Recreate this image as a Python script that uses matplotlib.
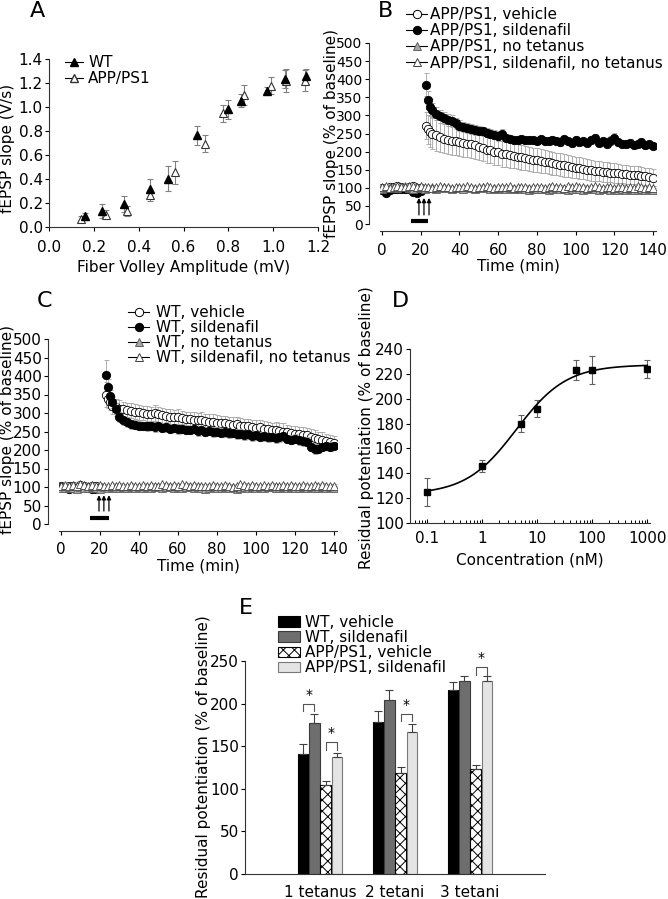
import numpy as np
import matplotlib.pyplot as plt
from matplotlib.lines import Line2D
from matplotlib.patches import Patch
from matplotlib.ticker import LogLocator, NullFormatter

plt.rcParams['font.family'] = 'DejaVu Sans'
plt.rcParams['font.size'] = 11
plt.rcParams['hatch.linewidth'] = 0.7

# ---------------- A: input/output curve ----------------
fv_wt = [0.159, 0.236, 0.335, 0.452, 0.531, 0.660, 0.800, 0.858, 0.974, 1.051, 1.148]
slope_wt = [0.089, 0.134, 0.190, 0.318, 0.404, 0.764, 0.980, 1.054, 1.135, 1.233, 1.255]
err_wt = [0.030, 0.060, 0.067, 0.078, 0.106, 0.078, 0.078, 0.056, 0.030, 0.078, 0.060]
fv_app = [0.144, 0.253, 0.350, 0.452, 0.560, 0.696, 0.776, 0.870, 0.990, 1.056, 1.140]
slope_app = [0.070, 0.103, 0.134, 0.265, 0.455, 0.694, 0.948, 1.100, 1.177, 1.220, 1.220]
err_app = [0.025, 0.035, 0.040, 0.045, 0.095, 0.073, 0.070, 0.080, 0.070, 0.095, 0.090]

# ---------------- B / C: time courses ----------------
t_base = list(range(0, 21, 2))
t_post = [23, 24, 25] + list(range(26, 141, 2))
t_nt = list(range(0, 141, 2))

# B, APP/PS1
b_veh = [100, 98, 102, 103, 104, 101, 100, 103, 104, 99, 100,
         272, 262, 255,
         250, 245, 240, 236, 232, 230, 228, 226, 224, 222,
         220, 218, 213, 211, 205, 204, 199, 198, 193, 192,
         190, 188, 186, 184, 182, 180, 178, 176, 174, 172,
         170, 168, 166, 164, 162, 160, 158, 156, 154, 152,
         150, 148, 147, 146, 144, 143, 142, 141, 140, 138,
         137, 136, 135, 134, 133, 132, 130, 128]
b_veh_err = [6, 5, 6, 5, 6, 5, 6, 5, 6, 5, 6,
             38, 40, 42,
             42, 42, 40, 40, 40, 40, 38, 38, 38, 38,
             38, 38, 36, 36, 36, 36, 35, 35, 35, 35,
             34, 34, 34, 34, 34, 33, 33, 33, 32, 32,
             32, 32, 31, 31, 31, 30, 30, 30, 30, 29,
             29, 29, 28, 28, 28, 28, 27, 27, 26, 26,
             26, 25, 25, 25, 24, 24, 24, 23]
b_sil = [95, 87, 93, 97, 98, 97, 98, 97, 88, 86, 92,
         385, 342, 322,
         315, 305, 298, 292, 288, 284, 278, 272, 268, 265,
         262, 260, 258, 256, 252, 250, 247, 243, 250, 238,
         235, 233, 232, 234, 231, 233, 232, 230, 234, 229,
         228, 232, 230, 226, 234, 228, 224, 232, 226, 228,
         225, 232, 238, 225, 228, 222, 230, 238, 226, 222,
         220, 225, 218, 222, 226, 218, 220, 216]
b_sil_err = [5, 6, 5, 4, 5, 5, 4, 5, 6, 7, 6,
             32, 25, 22,
             20, 19, 18, 17, 16, 16, 15, 15, 14, 14,
             14, 13, 13, 13, 12, 12, 12, 14, 12, 11,
             11, 11, 11, 11, 11, 10, 10, 10, 10, 10,
             10, 10, 10, 10, 10, 10, 10, 10, 10, 10,
             10, 10, 12, 10, 10, 10, 12, 14, 10, 10,
             10, 10, 10, 10, 10, 10, 10, 9]
b_nt = [98, 100, 102, 101, 99, 103, 104, 100, 98, 101,
        99, 97, 100, 102, 98, 99, 101, 100, 97, 99,
        100, 98, 101, 99, 97, 100, 102, 99, 98, 100,
        97, 99, 98, 100, 96, 98, 99, 97, 95, 98,
        97, 96, 98, 95, 97, 99, 96, 98, 95, 97,
        96, 98, 95, 97, 96, 98, 94, 96, 97, 95,
        96, 94, 97, 95, 96, 94, 95, 97, 94, 96,
        95]
b_nt_err = [5, 4, 5, 6, 4, 5, 4, 5, 6, 5,
            4, 5, 4, 6, 5, 4, 5, 4, 5, 6,
            5, 4, 5, 4, 6, 5, 4, 5, 4, 5,
            6, 5, 4, 5, 4, 6, 5, 4, 5, 4,
            5, 6, 5, 4, 5, 4, 6, 5, 4, 5,
            4, 5, 6, 5, 4, 5, 4, 6, 5, 4,
            5, 4, 5, 6, 5, 4, 5, 4, 6, 5,
            4]
b_silnt = [102, 104, 100, 103, 105, 102, 101, 104, 106, 103,
           104, 101, 103, 100, 102, 104, 101, 103, 100, 102,
           103, 101, 104, 102, 100, 103, 101, 104, 102, 100,
           103, 101, 102, 104, 100, 102, 101, 103, 100, 102,
           101, 103, 100, 102, 104, 101, 103, 100, 105, 102,
           104, 101, 103, 100, 102, 104, 101, 99, 103, 101,
           100, 103, 101, 99, 102, 100, 104, 101, 99, 102,
           100]
b_silnt_err = [4, 5, 4, 5, 5, 6, 4, 5, 4, 6,
               5, 4, 6, 5, 4, 5, 6, 4, 5, 4,
               6, 5, 4, 5, 4, 5, 6, 5, 4, 5,
               4, 6, 5, 4, 5, 6, 4, 5, 4, 5,
               6, 4, 5, 5, 4, 6, 5, 4, 5, 6,
               4, 5, 4, 6, 5, 4, 5, 6, 4, 5,
               5, 4, 6, 5, 4, 5, 4, 5, 6, 4,
               5]

# C, WT
c_veh = [102, 100, 104, 103, 101, 105, 104, 100, 102, 104, 101,
         350, 338, 330,
         320, 315, 312, 310, 308, 306, 304, 302, 300, 298,
         297, 300, 296, 294, 292, 290, 288, 290, 286, 284,
         283, 282, 280, 282, 278, 276, 277, 274, 272, 273,
         270, 268, 270, 266, 264, 265, 262, 260, 261, 258,
         256, 254, 255, 252, 250, 248, 246, 244, 242, 241,
         240, 236, 233, 230, 228, 225, 222, 220]
c_veh_err = [6, 5, 6, 6, 5, 6, 5, 6, 6, 5, 6,
             35, 25, 22,
             22, 22, 22, 20, 20, 20, 20, 20, 20, 20,
             20, 22, 20, 20, 20, 20, 20, 22, 20, 20,
             20, 20, 20, 22, 20, 20, 20, 20, 20, 20,
             20, 20, 20, 20, 20, 20, 20, 20, 20, 20,
             20, 20, 22, 20, 24, 20, 20, 20, 20, 20,
             20, 20, 22, 20, 20, 18, 18, 18]
c_sil = [100, 96, 95, 97, 100, 98, 99, 96, 94, 95, 97,
         402, 370, 345,
         330, 312, 290, 280, 275, 270, 268, 266, 265, 264,
         266, 262, 264, 260, 262, 258, 260, 256, 257, 255,
         254, 256, 252, 254, 250, 252, 248, 250, 247, 248,
         245, 247, 243, 244, 240, 242, 238, 240, 236, 237,
         234, 236, 232, 234, 237, 230, 228, 231, 226, 224,
         222, 208, 202, 204, 208, 211, 209, 212]
c_sil_err = [5, 6, 5, 5, 6, 5, 5, 6, 5, 5, 6,
             40, 22, 18,
             16, 15, 14, 13, 12, 12, 12, 12, 12, 12,
             12, 13, 11, 12, 14, 12, 11, 13, 12, 12,
             12, 11, 13, 12, 12, 11, 13, 12, 12, 12,
             12, 11, 13, 12, 12, 11, 13, 12, 12, 12,
             12, 11, 13, 12, 12, 11, 13, 12, 12, 12,
             12, 12, 14, 12, 12, 11, 12, 10]
c_nt = [98, 96, 100, 97, 95, 99, 98, 96, 100, 97,
        95, 99, 98, 100, 97, 96, 99, 98, 100, 97,
        99, 98, 101, 97, 99, 100, 98, 101, 99, 97,
        100, 98, 99, 101, 97, 99, 96, 94, 97, 99,
        96, 98, 100, 97, 99, 95, 98, 100, 97, 99,
        98, 100, 97, 99, 101, 98, 96, 99, 97, 100,
        98, 96, 99, 97, 100, 98, 96, 99, 97, 100,
        98]
c_nt_err = [5, 6, 4, 5, 5, 4, 6, 5, 4, 5,
            6, 4, 5, 5, 6, 4, 5, 4, 6, 5,
            4, 5, 6, 4, 5, 5, 4, 6, 5, 4,
            5, 6, 4, 5, 4, 6, 5, 5, 4, 6,
            5, 4, 5, 6, 4, 5, 5, 4, 6, 5,
            4, 6, 5, 4, 5, 6, 4, 5, 5, 4,
            6, 5, 4, 5, 6, 4, 5, 5, 4, 6,
            5]
c_silnt = [103, 105, 102, 106, 104, 108, 106, 103, 105, 102,
           106, 104, 102, 105, 103, 106, 104, 102, 105, 103,
           104, 106, 103, 105, 102, 104, 107, 105, 103, 106,
           104, 108, 105, 103, 106, 104, 102, 104, 103, 105,
           104, 102, 105, 103, 101, 104, 107, 105, 103, 106,
           104, 102, 105, 103, 106, 104, 102, 105, 103, 106,
           104, 103, 106, 104, 102, 105, 103, 106, 104, 102,
           104]
c_silnt_err = [4, 5, 5, 4, 6, 5, 4, 5, 6, 4,
               5, 5, 4, 6, 5, 4, 5, 5, 6, 4,
               5, 4, 6, 5, 5, 4, 5, 6, 4, 5,
               5, 4, 5, 6, 4, 5, 5, 4, 6, 5,
               4, 5, 6, 4, 5, 5, 4, 6, 5, 4,
               5, 6, 4, 5, 5, 4, 6, 5, 4, 5,
               5, 4, 6, 5, 4, 5, 5, 6, 4, 5,
               4]

tetanus_b = [19.1, 21.7, 24.3]
tetanus_c = [19.5, 22.0, 24.6]
drug_bar_b = [15, 24]
drug_bar_c = [15, 24.6]

# ---------------- D: dose response ----------------
conc_d = [0.1, 1, 5, 10, 50, 100, 1000]
resp_d = [125, 146, 180, 192, 223, 223, 224]
err_d = [11, 5, 7, 7, 8, 11, 7]

# ---------------- E: residual potentiation ----------------
groups_e = ['1 tetanus', '2 tetani', '3 tetani']
labels_e = ['WT, vehicle', 'WT, sildenafil', 'APP/PS1, vehicle', 'APP/PS1, sildenafil']
vals_e = [[141, 178, 216],
          [177, 204, 226],
          [104, 119, 123],
          [137, 167, 226]]
errs_e = [[11, 13, 9],
          [11, 12, 6],
          [5, 7, 5],
          [5, 9, 6]]
# (group index, bar i, bar j, bracket height)
sig_e = [(0, 0, 1, 200), (0, 2, 3, 155), (1, 2, 3, 188), (2, 2, 3, 243)]

# ======================================================
W, H = 668, 899
fig = plt.figure(figsize=(W / 100, H / 100), dpi=100)


def box(l, t, r, b):
    return [l / W, 1 - b / H, (r - l) / W, (b - t) / H]


def clean(ax):
    ax.spines['top'].set_visible(False)
    ax.spines['right'].set_visible(False)
    for s in ('left', 'bottom'):
        ax.spines[s].set_linewidth(0.8)
        ax.spines[s].set_color('#333333')


def add_legend(ax, handles, labels, x, y, hl, htp, ls):
    ax.legend(handles, labels, loc='upper left', bbox_to_anchor=(x / W, 1 - y / H),
              bbox_transform=fig.transFigure, frameon=False, borderpad=0,
              borderaxespad=0, handlelength=hl, handletextpad=htp, labelspacing=ls,
              fontsize=11)


axA = fig.add_axes(box(49, 59, 318, 227))
axB = fig.add_axes(box(380, 43, 656, 224))
axC = fig.add_axes(box(59, 339, 337, 524))
axD = fig.add_axes(box(410, 349, 650, 523))
axE = fig.add_axes(box(245, 661, 545, 874))

# ---- A ----
axA.errorbar(fv_wt, slope_wt, yerr=err_wt, fmt='none', ecolor='#808080',
             elinewidth=0.8, capsize=2.5, capthick=0.8, zorder=1)
axA.errorbar(fv_app, slope_app, yerr=err_app, fmt='none', ecolor='#808080',
             elinewidth=0.8, capsize=2.5, capthick=0.8, zorder=1)
axA.plot(fv_wt, slope_wt, ls='none', marker='^', ms=6, mfc='black', mec='black', zorder=3)
axA.plot(fv_app, slope_app, ls='none', marker='^', ms=6, mfc='white', mec='#333333',
         mew=0.8, zorder=2)
axA.set_xlim(0, 1.2)
axA.set_ylim(0, 1.4)
axA.set_xticks(np.arange(0, 1.21, 0.2))
axA.set_yticks(np.arange(0, 1.41, 0.2))
axA.xaxis.set_major_formatter(plt.FormatStrFormatter('%.1f'))
axA.yaxis.set_major_formatter(plt.FormatStrFormatter('%.1f'))
clean(axA)
axA.tick_params(axis='x', length=3, width=0.8, pad=6)
axA.tick_params(axis='y', length=3, width=0.8, pad=1.5)
axA.set_xlabel('Fiber Volley Amplitude (mV)')
axA.set_ylabel('fEPSP slope (V/s)')
axA.xaxis.set_label_coords(0.5, -0.196)
axA.yaxis.set_label_coords(-0.126, 0.47)
hA = [Line2D([0], [0], color='black', lw=0.8, marker='^', ms=6, mfc='black', mec='black'),
      Line2D([0], [0], color='black', lw=0.8, marker='^', ms=6, mfc='white', mec='#333333')]
add_legend(axA, hA, ['WT', 'APP/PS1'], 65, 55, 1.2, 0.33, 0.08)


# ---- B & C ----
def timecourse(ax, series, tet, bar, arrow_lo, arrow_hi, bar_y, xpad, ysize):
    z = 1
    for t, y, e, mk, fc, ec in series:
        ax.errorbar(t, y, yerr=e, fmt='none', ecolor='#a3a3a3', elinewidth=0.6,
                    capsize=1.8, capthick=0.6, zorder=z)
        ax.plot(t, y, ls='none', marker=mk, ms=6, mfc=fc, mec=ec, mew=0.6, zorder=z + 1)
        z += 2
    for tt in tet:
        ax.annotate('', xy=(tt, arrow_hi), xytext=(tt, arrow_lo),
                    arrowprops=dict(arrowstyle='-|>', color='black', lw=0.9,
                                    mutation_scale=6, shrinkA=0, shrinkB=0), zorder=20)
    ax.plot(bar, [bar_y, bar_y], color='black', lw=3, solid_capstyle='butt', zorder=20)
    ax.set_xlim(-1, 141.5)
    ax.set_ylim(0, 500)
    ax.set_xticks(range(0, 141, 20))
    ax.set_yticks(range(0, 501, 50))
    clean(ax)
    ax.spines['left'].set_position(('outward', 8))
    ax.spines['bottom'].set_position(('outward', 5))
    ax.tick_params(axis='x', length=3, width=0.8, pad=xpad)
    ax.tick_params(axis='y', length=3, width=0.8, pad=1.5, labelsize=ysize)
    ax.set_xlabel('Time (min)')
    ax.set_ylabel('fEPSP slope (% of baseline)')


tet_times = t_base + t_post
styles = [('o', 'white', 'black'), ('o', 'black', 'black'),
          ('^', '#a8a8a8', '#606060'), ('^', 'white', '#404040')]

seriesB = [(tet_times, b_veh, b_veh_err) + styles[0],
           (tet_times, b_sil, b_sil_err) + styles[1],
           (t_nt, b_nt, b_nt_err) + styles[2],
           (t_nt, b_silnt, b_silnt_err) + styles[3]]
timecourse(axB, seriesB, tetanus_b, drug_bar_b, 25, 72, 8, 6, 10)
axB.xaxis.set_label_coords(0.5, -0.19)
axB.yaxis.set_label_coords(-0.15, 0.5)
hB = [Line2D([0], [0], color='black', lw=0.8, marker=m, ms=6, mfc=f, mec=e, mew=0.7)
      for m, f, e in styles]
add_legend(axB, hB, ['APP/PS1, vehicle', 'APP/PS1, sildenafil', 'APP/PS1, no tetanus',
                     'APP/PS1, sildenafil, no tetanus'], 406, 7, 1.4, 0.2, 0.08)

seriesC = [(tet_times, c_veh, c_veh_err) + styles[0],
           (tet_times, c_sil, c_sil_err) + styles[1],
           (t_nt, c_nt, c_nt_err) + styles[2],
           (t_nt, c_silnt, c_silnt_err) + styles[3]]
timecourse(axC, seriesC, tetanus_c, drug_bar_c, 35, 78, 16, 5, 11)
axC.xaxis.set_label_coords(0.5, -0.184)
axC.yaxis.set_label_coords(-0.158, 0.51)
add_legend(axC, hB, ['WT, vehicle', 'WT, sildenafil', 'WT, no tetanus',
                     'WT, sildenafil, no tetanus'], 128, 305, 1.4, 0.4, 0.01)

# ---- D ----
logc = np.log10(conc_d)
resp = np.array(resp_d, dtype=float)
best = None
for lec in np.linspace(-0.5, 1.5, 201):
    for n in np.linspace(0.3, 4.0, 75):
        s = 1.0 / (1.0 + 10 ** ((lec - logc) * n))
        A = np.column_stack([np.ones_like(s), s])
        coef = np.linalg.lstsq(A, resp, rcond=None)[0]
        sse = np.sum((A @ coef - resp) ** 2)
        if best is None or sse < best[0]:
            best = (sse, lec, n, coef)
_, lec, n, coef = best
xs = np.logspace(-1, 3, 300)
ys = coef[0] + coef[1] / (1.0 + 10 ** ((lec - np.log10(xs)) * n))
axD.plot(xs, ys, color='black', lw=1.2, zorder=2)
axD.errorbar(conc_d, resp_d, yerr=err_d, fmt='none', ecolor='#606060', elinewidth=0.8,
             capsize=2.5, capthick=0.8, zorder=1)
axD.plot(conc_d, resp_d, ls='none', marker='s', ms=5, mfc='black', mec='black', zorder=3)
axD.set_xscale('log')
axD.set_xlim(10 ** -1.31, 10 ** 3.05)
axD.set_ylim(100, 240)
axD.set_yticks(range(100, 241, 20))
axD.set_xticks([0.1, 1, 10, 100, 1000])
axD.set_xticklabels(['0.1', '1', '10', '100', '1000'])
axD.xaxis.set_minor_locator(LogLocator(base=10, subs=np.arange(2, 10)))
axD.xaxis.set_minor_formatter(NullFormatter())
clean(axD)
axD.tick_params(axis='x', which='major', direction='in', length=3, width=0.8, pad=6)
axD.tick_params(axis='x', which='minor', direction='in', length=2, width=0.7)
axD.tick_params(axis='y', length=3, width=0.8, pad=1.5)
axD.set_xlabel('Concentration (nM)')
axD.set_ylabel('Residual potentiation (% of baseline)')
axD.xaxis.set_label_coords(0.5, -0.172)
axD.yaxis.set_label_coords(-0.148, 0.55)

# ---- E ----
offsets = [-0.225, -0.075, 0.075, 0.225]
bar_w = 0.14
faces = ['black', '#6e6e6e', 'white', '#e4e4e4']
edges = ['black', '#3a3a3a', 'black', '#7a7a7a']
hatches = [None, None, 'xxx', None]
xg = np.arange(1, len(groups_e) + 1)
for i in range(4):
    xb = xg + offsets[i]
    axE.bar(xb, vals_e[i], width=bar_w, color=faces[i], edgecolor=edges[i],
            hatch=hatches[i], linewidth=0.8, zorder=2)
    axE.errorbar(xb, vals_e[i], yerr=[np.zeros(len(xb)), errs_e[i]], fmt='none',
                 ecolor='#404040', elinewidth=0.8, capsize=3, capthick=0.8, zorder=3)
for g, i, j, yb in sig_e:
    x1 = xg[g] + offsets[i]
    x2 = xg[g] + offsets[j]
    axE.plot([x1, x1, x2, x2], [yb - 9, yb, yb, yb - 9], color='#555555', lw=0.8,
             zorder=4, clip_on=False)
    axE.text((x1 + x2) / 2, yb + 2, '*', ha='center', va='bottom', fontsize=10,
             clip_on=False)
axE.set_xlim(0, 4)
axE.set_ylim(0, 250)
axE.set_yticks(range(0, 251, 50))
axE.set_xticks(xg)
axE.set_xticklabels(groups_e)
clean(axE)
axE.tick_params(axis='x', length=0, pad=8)
axE.tick_params(axis='y', length=3, width=0.8, pad=1.5)
axE.set_ylabel('Residual potentiation (% of baseline)')
axE.yaxis.set_label_coords(-0.113, 0.55)
hE = [Patch(facecolor=faces[i], edgecolor=edges[i], hatch=hatches[i], linewidth=0.8)
      for i in range(4)]
add_legend(axE, hE, labels_e, 278, 615, 1.45, 0.3, 0.01)

# ---- panel letters ----
for letter, px, py in [('A', 37, 11), ('B', 385, 11), ('C', 44, 301),
                       ('D', 400, 301), ('E', 246, 608)]:
    fig.text(px / W, 1 - py / H, letter, fontsize=16, ha='center', va='center')

fig.savefig('out.png', dpi=100)
